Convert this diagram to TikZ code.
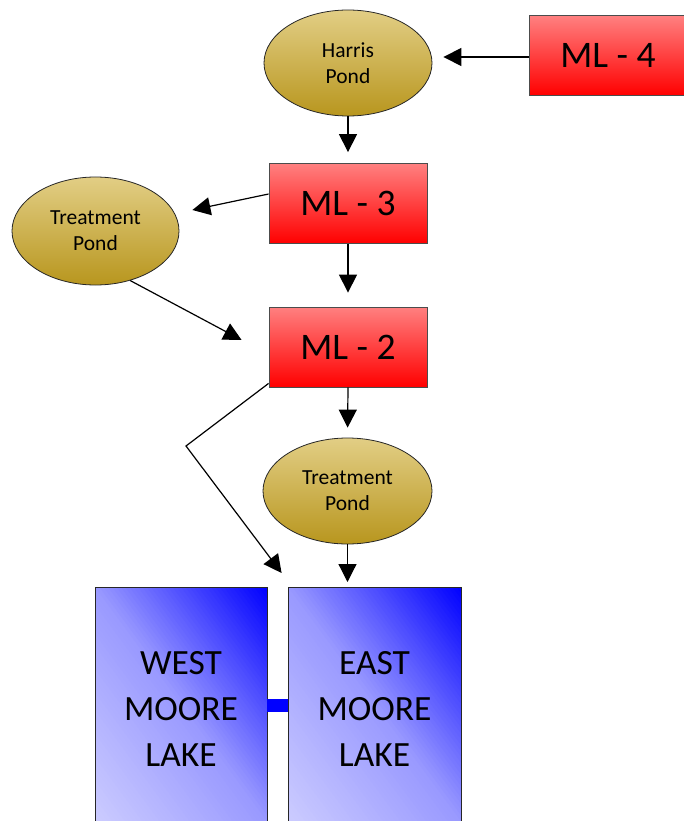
\documentclass[tikz,border=0pt]{standalone}
\usepackage{fontspec}
\setmainfont{Carlito}
\usetikzlibrary{shapes.geometric,arrows.meta}
\definecolor{pondtop}{HTML}{E2CE85}
\definecolor{pondbot}{HTML}{B8961E}
\definecolor{redtop}{HTML}{FF8080}
% diagonal gradient fill of a lake: #1 = left x, #2 = width
\newcommand\lakefill[2]{%
  \begin{scope}
    \clip (#1,587) rectangle ++(#2,243);
    \foreach \i in {0,...,79} {
      \pgfmathsetmacro\ca{\i/40}
      \pgfmathsetmacro\cb{(\i+1.4)/40}
      \pgfmathsetmacro\tm{(\i+0.5)/40}
      \pgfmathsetmacro\pp{ifthenelse(\tm<1, 20+20*\tm, 40+60*(\tm-1))}
      \fill[blue!\pp!white] (#1+\ca*#2,821) -- (#1+\cb*#2,821)
        -- (#1,821-\cb*234) -- (#1,821-\ca*234) -- cycle;
    }
  \end{scope}}
\begin{document}
\begin{tikzpicture}[x=1pt,y=-1pt,
  redbox/.style={draw=black!70, line width=0.8pt, top color=redtop, bottom color=red,
    minimum width=158pt, minimum height=80pt, inner sep=0pt,
    font=\fontsize{37.5}{44}\selectfont},
  pond/.style={ellipse, draw=black!85, line width=0.8pt, top color=pondtop, bottom color=pondbot,
    minimum width=168pt, minimum height=106pt, inner sep=0pt, align=center,
    font=\fontsize{21.5}{26}\selectfont},
  lake/.style={draw=black!85, line width=0.8pt, minimum width=172pt, minimum height=243pt,
    inner sep=0pt, anchor=north, align=center, font=\fontsize{35.5}{46}\selectfont},
  arr/.style={-{Triangle[length=18pt,width=18pt]}, line width=1.2pt, black},
  channel/.style={line width=13pt, blue}
]
\fill[white] (0,0) rectangle (684,821);
\useasboundingbox (0,0) rectangle (684,821);

\lakefill{95}{172}
\lakefill{288}{173}

\node[pond] (harris) at (348,63) {Harris\\Pond};
\node[redbox] (ml4) at (608,55.5) {ML - 4};
\node[redbox] (ml3) at (348,203.5) {ML - 3};
\node[pond, minimum width=167pt, minimum height=108pt] (tp1) at (95.5,231) {Treatment\\Pond};
\node[redbox] (ml2) at (348,347) {ML - 2};
\node[pond, minimum width=169pt] (tp2) at (347.5,491) {Treatment\\Pond};
\node[lake] (west) at (181,587) {WEST\\MOORE\\LAKE};
\node[lake, minimum width=173pt] (east) at (374.5,587) {EAST\\MOORE\\LAKE};

\draw[channel] ([yshift=3pt]west.east) -- ([yshift=3pt]east.west);

\draw[arr, shorten >=11pt] ([yshift=-1.5pt]ml4.west) -- ([yshift=-1.5pt]ml4.west -| harris.east);
\draw[arr, shorten >=11pt] (harris.south) -- (ml3.north);
\draw[arr] ([yshift=9.5pt]ml3.west) -- ([xshift=13pt,yshift=21pt]tp1.east);
\draw[arr, shorten >=14pt] (ml3.south) -- (ml2.north);
\draw[arr] (tp1.-55) -- ([xshift=-27pt,yshift=7pt]ml2.west);
\coordinate (bend) at (186,446);
\draw[arr] ([yshift=4pt]ml2.south west) -- (bend) -- ([xshift=-6pt,yshift=14pt]east.north west);
\draw[arr, shorten >=10pt] (ml2.south) -- (tp2.north);
\draw[arr, shorten >=5pt] (tp2.south) -- (tp2.south |- east.north);
\end{tikzpicture}
\end{document}
